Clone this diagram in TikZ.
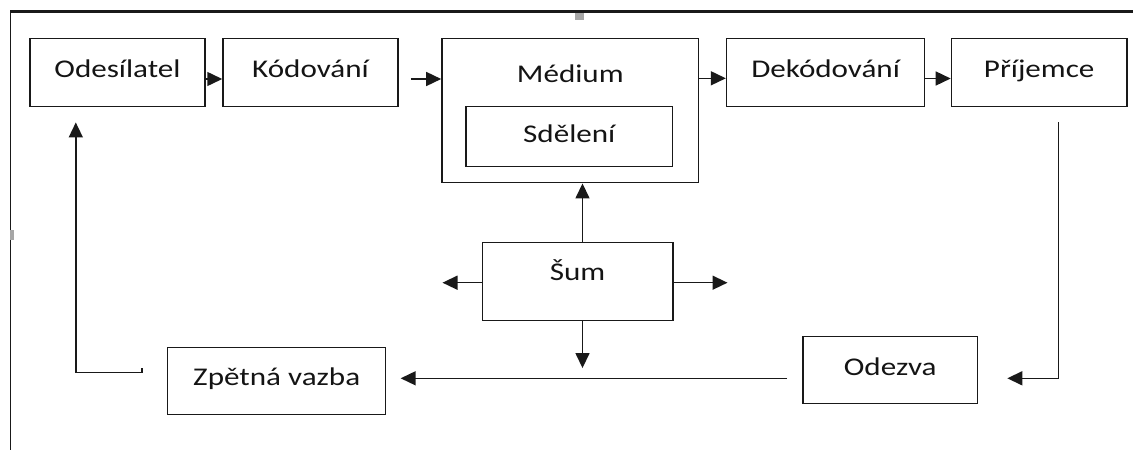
\documentclass[tikz,border=0pt]{standalone}
\usepackage{fontspec}
\setmainfont{Carlito}[FakeStretch=1.22]
\usetikzlibrary{arrows.meta,calc}

\begin{document}
\begin{tikzpicture}[x=1pt,y=-1pt,
  box/.style={draw=black!90, line width=1.5pt, inner sep=0pt,
    text=black!92, font=\fontsize{25.5}{30}\selectfont,
    text height=16pt, text depth=5.4pt},
  arr/.style={draw=black!90, line width=1.5pt,
    -{Triangle[length=15pt,width=14pt]}},
  frame/.style={draw=black!90}]

\useasboundingbox (0,0) rectangle (1133,450);

% page frame and small marks
\draw[frame, line width=2.7pt] (10.3,11.7) -- (1133,11.7);
\draw[frame, line width=1.4pt] (10.3,11) -- (10.3,450);
\fill[gray!70] (575,13) rectangle (584,19.5);
\fill[gray!70] (10.3,230) rectangle (13.5,240);

% top row
\node[box, minimum width=175pt, minimum height=68.4pt] (odes) at (117.5,72.5) {Odesílatel};
\node[box, minimum width=175pt, minimum height=68.4pt] (kod) at (310.5,72.5) {Kódování};
\node[box, minimum width=256.7pt, minimum height=144.4pt,
      text height=16pt, text depth=73pt] (med) at (570.3,110.5) {Médium};
\node[box, minimum width=206.7pt, minimum height=60pt] (sdel) at (569.3,136.7) {Sdělení};
\node[box, minimum width=198pt, minimum height=68.4pt] (dek) at (825.6,72.5) {Dekódování};
\node[box, minimum width=175.5pt, minimum height=68.4pt] (prij) at (1039.2,72.5) {Příjemce};

% noise and feedback
\node[box, minimum width=190.5pt, minimum height=78pt,
      text height=16pt, text depth=19.4pt] (sum) at (577.5,281.7) {Šum};
\node[box, minimum width=218pt, minimum height=66.6pt,
      text depth=8pt] (zpet) at (276.7,381) {Zpětná vazba};
\node[box, minimum width=174.7pt, minimum height=66.6pt] (odez) at (890.2,370) {Odezva};

% forward chain
\draw[arr] ([yshift=-6.5pt]odes.east) -- ([yshift=-6.5pt]kod.west);
\draw[arr] ([xshift=12pt,yshift=-6.5pt]kod.east) -- ($(kod.east -| med.west)+(0,6.5)$);
\draw[arr] ($(dek.west -| med.east)+(0,5.8)$) -- ([yshift=-5.8pt]dek.west);
\draw[arr] ([yshift=-6pt]dek.east) -- ($(dek.east -| prij.west)+(0,6)$);

% noise arrows
\coordinate (sumtop) at ([xshift=5pt]sum.north);
\coordinate (sumbot) at ([xshift=5pt]sum.south);
\draw[arr] (sumtop) -- (sumtop |- med.south);
\draw[arr] (sumbot) -- ++(0,46.6);
\draw[arr] ([yshift=-1pt]sum.west) -- ++(-39,0);
\draw[arr] ([yshift=-1pt]sum.east) -- ++(54,0);

% return path
\draw[arr] ($(prij.south)+(19.4,15)$) |- ($(odez.east)+(29,8.3)$);
\draw[arr] ($(odez.west)+(-15,8.3)$) -- ($(zpet.east)+(14.2,-2.7)$);
\draw[arr] ($(zpet.west)+(-25.2,-13)$) -- ++(0,4.7) -| ($(odes.south)+(-41.7,15)$);

\end{tikzpicture}
\end{document}
